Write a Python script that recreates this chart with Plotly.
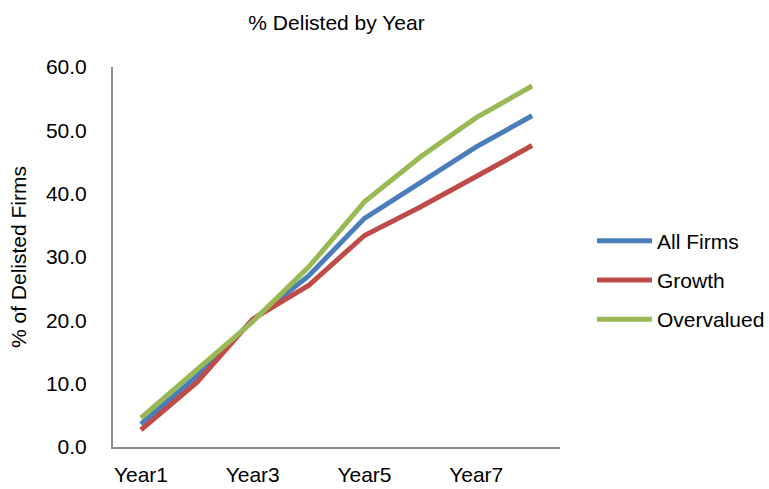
import plotly.graph_objects as go

years = ["Year1", "Year2", "Year3", "Year4", "Year5", "Year6", "Year7", "Year8"]
tick_years = ["Year1", "Year3", "Year5", "Year7"]
all_firms = [3.6, 11.2, 20.0, 27.0, 36.1, 41.8, 47.4, 52.3]
growth = [2.7, 10.2, 20.2, 25.5, 33.4, 37.9, 42.7, 47.6]
overvalued = [4.6, 12.3, 19.8, 28.4, 38.7, 45.8, 52.0, 57.0]

font_family = "Liberation Sans, Arial, sans-serif"

fig = go.Figure()
for name, vals, color in [
    ("All Firms", all_firms, "#4A7EBB"),
    ("Growth", growth, "#BE4B48"),
    ("Overvalued", overvalued, "#98B954"),
]:
    fig.add_trace(go.Scatter(
        x=years, y=vals, name=name, mode="lines", legendgroup=name,
        line=dict(color=color, width=5),
    ))

fig.update_layout(
    width=769, height=489,
    margin=dict(l=113, r=209, t=67, b=42, autoexpand=False),
    paper_bgcolor="white", plot_bgcolor="white",
    font=dict(family=font_family, size=21, color="black"),
    title=dict(text="% Delisted by Year", x=0.5, xref="paper", xanchor="center",
               y=1 - 23 / 489, yanchor="middle", font=dict(size=21)),
    showlegend=True,
    legend=dict(xref="container", yref="container", x=592 / 769, y=1 - 280 / 489,
                xanchor="left", yanchor="middle",
                font=dict(size=21), tracegroupgap=9, itemwidth=55,
                bgcolor="rgba(0,0,0,0)"),
)
fig.update_xaxes(
    type="category", categoryorder="array", categoryarray=years,
    range=[-0.5, 7.5], tickmode="array", tickvals=tick_years, ticktext=tick_years,
    showgrid=False, zeroline=False, showline=True, linecolor="#8c8c8c", linewidth=2,
    ticks="", ticklabelstandoff=8, automargin=False,
)
fig.update_yaxes(
    range=[0, 60], tickmode="array", tickvals=[0, 10, 20, 30, 40, 50, 60],
    tickformat=".1f", showgrid=False, zeroline=False, automargin=False,
    showline=True, linecolor="#8c8c8c", linewidth=2, ticks="", ticklabelstandoff=20,
    title=dict(text="% of Delisted Firms", standoff=14, font=dict(size=21)),
)

fig.write_html("out.html")
